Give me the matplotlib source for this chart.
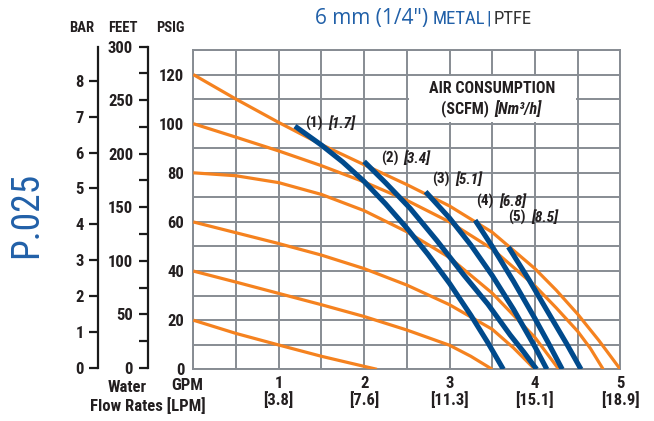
import matplotlib
matplotlib.use('Agg')
import matplotlib.pyplot as plt
from matplotlib.patches import Rectangle
from matplotlib import font_manager as fm

# ---------------- data ----------------
gpm_ticks = [1, 2, 3, 4, 5]
lpm_labels = ['[3.8]', '[7.6]', '[11.3]', '[15.1]', '[18.9]']
psi_ticks = [0, 20, 40, 60, 80, 100, 120]
bar_ticks = [0, 1, 2, 3, 4, 5, 6, 7, 8]
feet_major = [0, 50, 100, 150, 200, 250, 300]
feet_minor = [25, 75, 125, 175, 225, 275]

# head curves (orange) at different air inlet pressures
c20_gpm = [0, 0.5, 1.0, 1.5, 2.0, 2.15]
c20_psi = [20, 14.6, 9.9, 5.3, 1.2, 0]
c40_gpm = [0, 0.5, 1.0, 1.5, 2.0, 2.5, 3.0, 3.25, 3.5]
c40_psi = [40, 35.5, 30.9, 26.3, 21.5, 16, 9.8, 5.3, 0]
c60_gpm = [0, 0.5, 1.0, 1.5, 2.0, 2.5, 3.0, 3.5, 3.75, 4.0]
c60_psi = [60, 55.6, 51.2, 46.5, 41, 34.3, 26.3, 16.3, 8.7, 0]
c80_gpm = [0, 0.5, 1.0, 1.5, 2.0, 2.5, 3.0, 3.5, 4.0, 4.28]
c80_psi = [80, 78.8, 76, 71.2, 64.6, 56, 45.5, 31, 13, 0]
c100_gpm = [0, 0.5, 1.0, 1.5, 2.0, 2.5, 3.0, 3.5, 4.0, 4.25, 4.5, 4.65, 4.8]
c100_psi = [100, 94.5, 88.9, 82.9, 76.3, 68.8, 60, 49, 34, 25, 15.5, 8.5, 0]
c120_gpm = [0, 0.5, 1.0, 1.5, 2.0, 2.5, 3.0, 3.5, 4.0, 4.25, 4.5, 4.75, 5.0]
c120_psi = [120, 110, 100.5, 91.5, 83.3, 75.2, 66.5, 55.8, 41, 32.2, 22.5, 11.7, 0]

# air consumption curves (blue)
a1_gpm = [1.19, 1.5, 1.75, 2.0, 2.25, 2.5, 2.75, 3.0, 3.25, 3.45, 3.63]
a1_psi = [99, 91.3, 84.4, 76.5, 67.4, 57.5, 46.7, 35, 22, 10.8, 0]
a2_gpm = [2.0, 2.25, 2.54, 2.85, 3.17, 3.45, 3.71, 3.87, 4.02]
a2_psi = [84.6, 76, 65.5, 52.5, 38.3, 26.5, 14, 7, 0]
a3_gpm = [2.72, 3.0, 3.25, 3.5, 3.75, 4.0, 4.14]
a3_psi = [72.3, 61.6, 50.6, 38.2, 24.4, 9.2, 0]
a4_gpm = [3.30, 3.5, 3.75, 4.0, 4.15, 4.32]
a4_psi = [60.7, 50, 35.8, 20.7, 11.2, 0]
a5_gpm = [3.69, 3.93, 4.2, 4.37, 4.54]
a5_psi = [49.8, 36.5, 20.5, 10.5, 0]

air_scfm = ['(1)', '(2)', '(3)', '(4)', '(5)']
air_nm3h = ['[1.7]', '[3.4]', '[5.1]', '[6.8]', '[8.5]']
air_label_gpm = [1.308, 2.194, 2.80, 3.31, 3.689]
air_label_psi = [100.2, 85.9, 77.4, 68.2, 61.7]

PSI_PER_BAR = 14.5038
FT_PER_PSI = 2.31


# ---------------- fonts ----------------
def choose_condensed():
    entries = fm.fontManager.ttflist
    names = {f.name for f in entries}
    for p in ['Liberation Sans Narrow', 'Roboto Condensed',
              'Noto Sans Condensed', 'Open Sans Condensed',
              'DejaVu Sans Condensed', 'Arial Narrow', 'Lato Condensed']:
        if p in names:
            return p, 'normal', True
    for f in entries:
        if 'Condensed' in f.name or 'Narrow' in f.name:
            return f.name, 'normal', True
    cond = {}
    for f in entries:
        st = str(f.stretch).lower()
        if 'condensed' in st or 'narrow' in st or st in ('100', '200', '300', '400'):
            cond.setdefault(f.name, []).append(f)
    for p in ['DejaVu Sans', 'Noto Sans', 'Roboto', 'Open Sans', 'Liberation Sans']:
        if p in cond:
            return p, 'condensed', True
    if cond:
        return sorted(cond)[0], 'condensed', True
    return 'Roboto', 'normal', False


CFAM, CSTR, HAS_COND = choose_condensed()
K = 1.0 if HAS_COND else 0.88


def ck(size, bold=True, italic=False, color='#231f20'):
    return dict(family=[CFAM, 'DejaVu Sans'], fontstretch=CSTR,
                fontsize=size * K, fontweight='bold' if bold else 'normal',
                style='italic' if italic else 'normal', color=color)


REG = ['Open Sans', 'DejaVu Sans']

# ---------------- style ----------------
W, H = 654, 421
ORANGE = '#f5821f'
NAVY = '#004a8c'
BLUE = '#2160a8'
GRID = '#878c93'
TXT = '#231f20'

fig = plt.figure(figsize=(W / 100, H / 100), dpi=100)
renderer = fig.canvas.get_renderer()


def fx(px):
    return px / W


def fy(py):
    return 1 - py / H


# main axes
L, R, T, B = 193.3, 620.3, 50.0, 369.3
ax = fig.add_axes([fx(L), fy(B), fx(R - L), (B - T) / H])
ax.set_xlim(0, 5)
ax.set_ylim(0, 130)
ax.set_xticks(gpm_ticks)
ax.set_xticks([i * 0.5 for i in range(11)], minor=True)
ax.set_yticks(psi_ticks)
ax.set_yticks(list(range(0, 131, 10)), minor=True)
ax.set_xticklabels([f'{g}\n{l}' for g, l in zip(gpm_ticks, lpm_labels)],
                   linespacing=1.05, **ck(12))
ax.set_yticklabels([str(p) for p in psi_ticks], **ck(12))
ax.tick_params(which='both', length=0)
ax.tick_params(axis='x', pad=4.5)
ax.tick_params(axis='y', pad=6.5)
ax.grid(which='both', color=GRID, lw=1.4)
ax.set_axisbelow(True)
for s in ax.spines.values():
    s.set_color(GRID)
    s.set_linewidth(1.4)

# white box behind the legend text
ax.add_patch(Rectangle((2.52, 100.5), 1.96, 19.0, facecolor='white',
                       edgecolor='none', zorder=1))

heads = [(c20_gpm, c20_psi), (c40_gpm, c40_psi), (c60_gpm, c60_psi),
         (c80_gpm, c80_psi), (c100_gpm, c100_psi), (c120_gpm, c120_psi)]
for gx, gy in heads:
    ax.plot(gx, gy, color=ORANGE, lw=2.3, zorder=3, solid_capstyle='butt',
            solid_joinstyle='round')

airs = [(a1_gpm, a1_psi), (a2_gpm, a2_psi), (a3_gpm, a3_psi),
        (a4_gpm, a4_psi), (a5_gpm, a5_psi)]
for gx, gy in airs:
    ax.plot(gx, gy, color=NAVY, lw=3.7, zorder=4, solid_capstyle='butt',
            solid_joinstyle='round')

for n, m, gx, gy in zip(air_scfm, air_nm3h, air_label_gpm, air_label_psi):
    t1 = ax.annotate(n, (gx, gy), ha='left', va='center', zorder=5, **ck(11))
    ax.annotate(m, xy=(1, 0.5), xycoords=t1, xytext=(4, 0),
                textcoords='offset points', ha='left', va='center', zorder=5,
                **ck(11, italic=True))

ax.text(3.5, 114.4, 'AIR CONSUMPTION', ha='center', va='center', zorder=5,
        **ck(11.5))
ax.text(3.466, 106.3, '(SCFM)', ha='right', va='center', zorder=5, **ck(11.5))
ax.text(3.525, 106.3, '[Nm³/h]', ha='left', va='center', zorder=5,
        **ck(11.5, italic=True))

# BAR and FEET scales
AB, AT = 367.8, 46.7
top_psi = feet_major[-1] / FT_PER_PSI


def side_axis(xpx, top_val, ticks, labels, minor=None):
    a = fig.add_axes([fx(xpx), fy(AB), 0.0001, (AB - AT) / H])
    a.set_ylim(0, top_val)
    a.patch.set_visible(False)
    for k in ('right', 'top', 'bottom'):
        a.spines[k].set_visible(False)
    a.spines['left'].set_color('#1a1a1a')
    a.spines['left'].set_linewidth(1.6)
    a.set_xticks([])
    a.set_yticks(ticks)
    a.set_yticklabels(labels, **ck(12))
    if minor is not None:
        a.set_yticks(minor, minor=True)
    a.tick_params(which='both', length=6.5, width=1.6, color='#1a1a1a',
                  pad=4)
    return a


side_axis(98.3, top_psi / PSI_PER_BAR, bar_ticks, [str(b) for b in bar_ticks])
side_axis(147.7, feet_major[-1], feet_major, [str(f) for f in feet_major],
          minor=feet_minor)

for lbl, xc in (('BAR', 81.5), ('FEET', 122.5), ('PSIG', 170.5)):
    fig.text(fx(xc), fy(28), lbl, ha='center', va='center', **ck(10.5))

fig.text(fx(127), fy(387.5), 'Water', ha='center', va='center', **ck(12))
fig.text(fx(187), fy(386), 'GPM', ha='center', va='center', **ck(12))
fig.text(fx(206), fy(405.5), 'Flow Rates [LPM]', ha='right', va='center',
         **ck(12))

# P.025
fig.text(fx(27), fy(215), 'P.025', rotation=90, ha='center', va='center',
         **ck(27, bold=False, color=BLUE))

# title, laid out piece by piece
title_parts = [
    ('6 mm (1/4")', dict(family=REG, fontsize=15, color=BLUE), 0),
    ('METAL', ck(13.5, bold=False, color=BLUE), 4),
    ('|', ck(14, bold=False, color=BLUE), 2),
    ('PTFE', ck(13.5, bold=False, color='#333333'), 2),
]
xcur = 315
for txt, kw, gap in title_parts:
    xcur += gap
    t = fig.text(fx(xcur), fy(24), txt, ha='left', va='baseline', **kw)
    xcur += t.get_window_extent(renderer).width

fig.savefig('out.png', dpi=100)
